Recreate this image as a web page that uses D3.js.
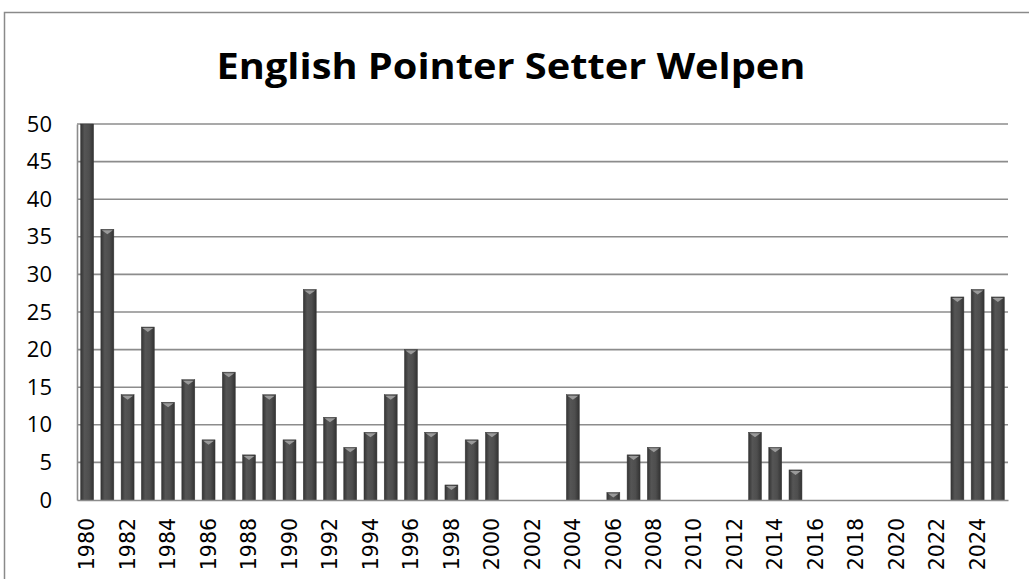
<!DOCTYPE html>
<html>
<head>
<meta charset="utf-8">
<script src="https://cdn.jsdelivr.net/npm/d3@7"></script>
<style>
  body { margin: 0; background: #fff; }
  svg { display: block; }
</style>
</head>
<body>
<svg id="chart" width="1029" height="579"></svg>
<script>
// data
var years = d3.range(1980, 2026).map(String);
var welpen = [50, 36, 14, 23, 13, 16, 8, 17, 6, 14,
              8, 28, 11, 7, 9, 14, 20, 9, 2, 8,
              9, 0, 0, 0, 14, 0, 1, 6, 7, 0,
              0, 0, 0, 9, 7, 4, 0, 0, 0, 0,
              0, 0, 0, 27, 28, 27];
var yTicks = [0, 5, 10, 15, 20, 25, 30, 35, 40, 45, 50];
var title = "English Pointer Setter Welpen";

var svg = d3.select("#chart");

// outer frame (right/bottom run off the page)
svg.append("rect")
  .attr("x", 4.5).attr("y", 12.5)
  .attr("width", 1100).attr("height", 700)
  .attr("fill", "none").attr("stroke", "#8a8a8a").attr("stroke-width", 1.5);

svg.append("text")
  .attr("x", 511).attr("y", 79)
  .attr("text-anchor", "middle")
  .attr("font-family", "Open Sans, sans-serif")
  .attr("font-weight", "bold")
  .attr("font-size", 36)
  .attr("textLength", 589)
  .attr("lengthAdjust", "spacingAndGlyphs")
  .text(title);

var pLeft = 77, pRight = 1008, pTop = 124, pBottom = 500;

var x = d3.scaleBand().domain(years).range([pLeft, pRight]).paddingInner(0.36).paddingOuter(0.18);
var y = d3.scaleLinear().domain([0, 50]).range([pBottom, pTop]);

// gradient for bars
var defs = svg.append("defs");
var grad = defs.append("linearGradient").attr("id", "barGrad")
  .attr("x1", "0").attr("x2", "1").attr("y1", "0").attr("y2", "0");
grad.append("stop").attr("offset", "0%").attr("stop-color", "#333");
grad.append("stop").attr("offset", "30%").attr("stop-color", "#555");
grad.append("stop").attr("offset", "65%").attr("stop-color", "#4e4e4e");
grad.append("stop").attr("offset", "100%").attr("stop-color", "#323232");

// grid
svg.append("g").selectAll("line")
  .data(yTicks.filter(function(d){ return d > 0; }))
  .enter().append("line")
  .attr("x1", pLeft).attr("x2", pRight)
  .attr("y1", function(d){ return y(d); }).attr("y2", function(d){ return y(d); })
  .attr("stroke", "#8c8c8c").attr("stroke-width", 1.6);

// y axis
var yAxis = svg.append("g")
  .attr("transform", "translate(" + pLeft + ",0)")
  .call(d3.axisLeft(y).tickValues(yTicks).tickSize(0).tickPadding(25));
yAxis.attr("font-size", null).attr("font-family", null);
yAxis.select(".domain").attr("stroke", "#8c8c8c").attr("stroke-width", 1.6);
yAxis.selectAll("text")
  .style("font-family", "'Open Sans', sans-serif")
  .style("font-size", "22px")
  .attr("fill", "#000");

// bars
var bars = svg.append("g").selectAll("g")
  .data(years.map(function(yr, i){ return {year: yr, value: welpen[i]}; }))
  .enter().append("g")
  .filter(function(d){ return d.value > 0; });

bars.append("rect")
  .attr("x", function(d){ return x(d.year); })
  .attr("y", function(d){ return y(d.value); })
  .attr("width", x.bandwidth())
  .attr("height", function(d){ return pBottom - y(d.value); })
  .attr("fill", "url(#barGrad)")
  .attr("stroke", "#3a3a3a").attr("stroke-width", 0.5);

bars.filter(function(d){ return d.value < 50; }).append("path")
  .attr("d", function(d){
    var x0 = x(d.year), w = x.bandwidth(), y0 = y(d.value);
    return "M" + (x0 + 1) + "," + (y0 + 1) + "L" + (x0 + w - 1) + "," + (y0 + 1) +
           "L" + (x0 + w / 2) + "," + (y0 + 5) + "Z";
  })
  .attr("fill", "#9a9a9a");

// x axis
var xAxis = svg.append("g")
  .attr("transform", "translate(0," + pBottom + ")")
  .call(d3.axisBottom(x).tickValues(years.filter(function(d, i){ return i % 2 === 0; }))
        .tickSize(0).tickPadding(0));
xAxis.attr("font-size", null).attr("font-family", null);
xAxis.select(".domain").attr("stroke", "#8c8c8c").attr("stroke-width", 1.6);
xAxis.selectAll("text")
  .style("font-family", "'DejaVu Sans', sans-serif")
  .style("font-size", "20.5px")
  .attr("fill", "#000")
  .attr("text-anchor", "end")
  .attr("transform", "rotate(-90)")
  .attr("x", -18)
  .attr("y", 0)
  .attr("dy", "0.35em");
</script>
</body>
</html>
